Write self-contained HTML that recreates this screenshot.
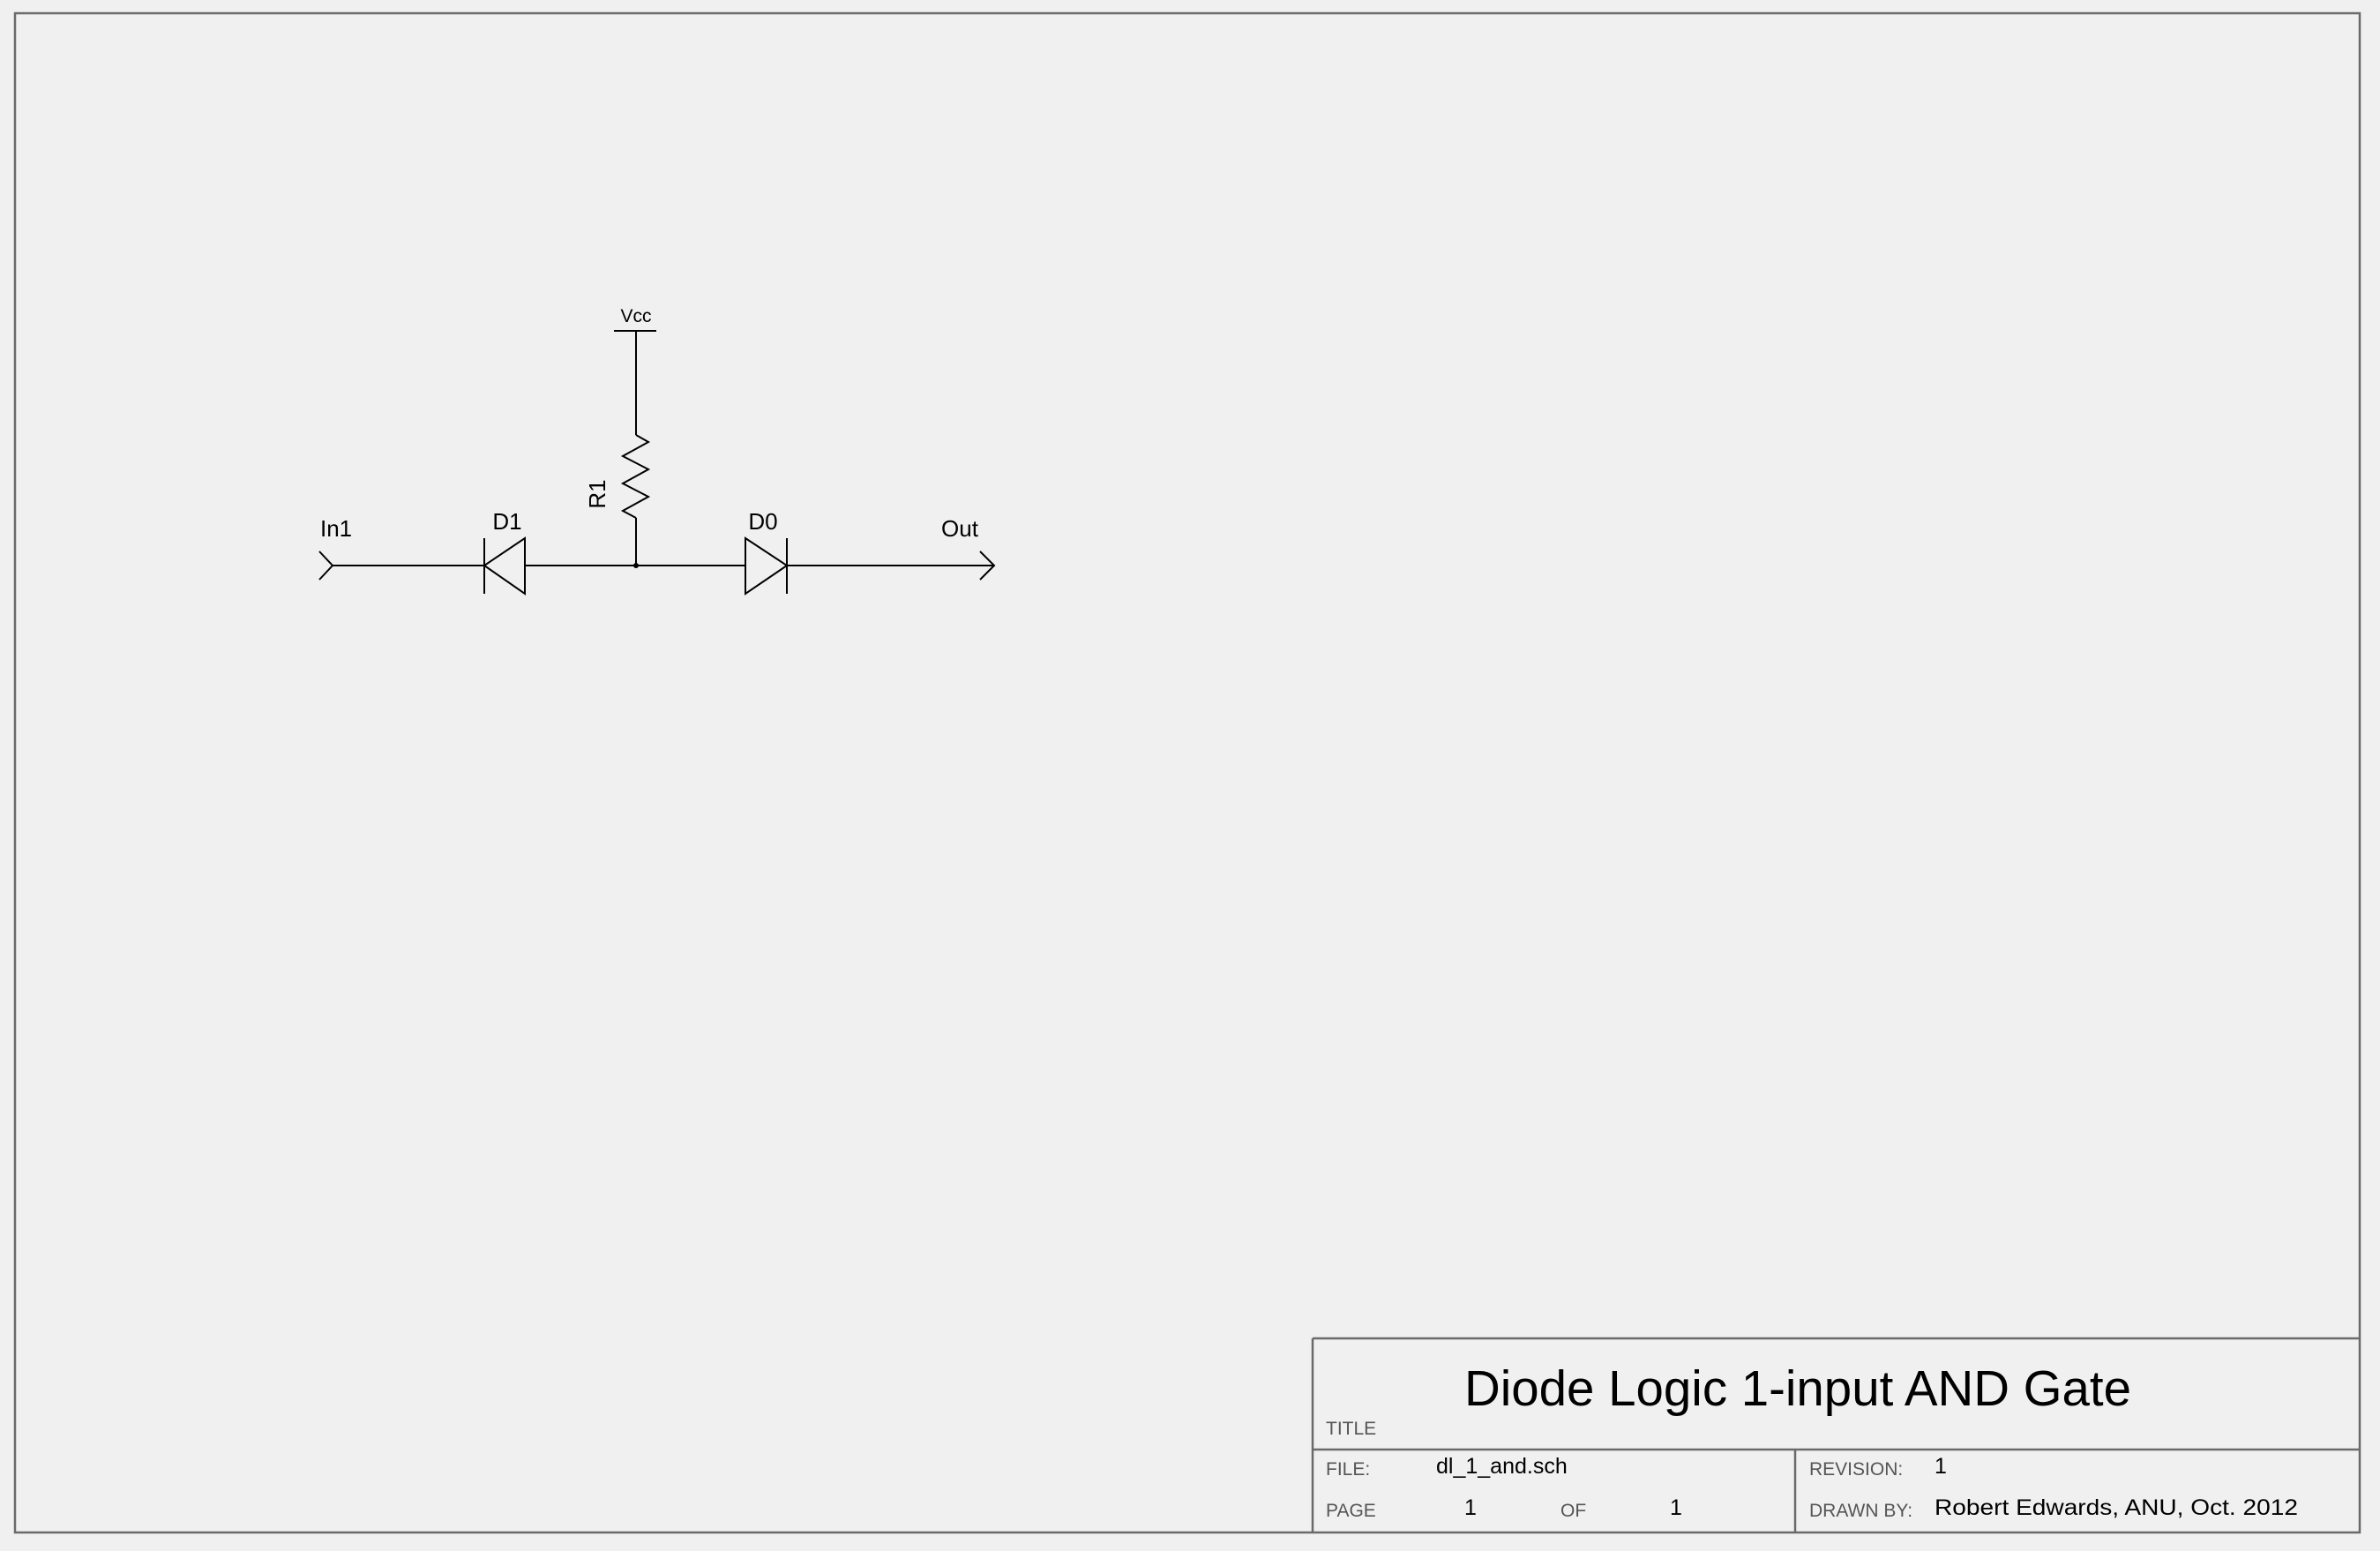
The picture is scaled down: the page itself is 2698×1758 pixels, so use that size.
<!DOCTYPE html>
<html><head><meta charset="utf-8"><style>
html,body{margin:0;padding:0;background:#f0f0f0;}
svg{display:block;}
text{font-family:"Liberation Sans",Arial,sans-serif;}
</style></head><body>
<svg width="2698" height="1758" viewBox="0 0 2698 1758">
<rect x="0" y="0" width="2698" height="1758" fill="#f0f0f0"/>
<rect x="17" y="15" width="2658" height="1722" fill="none" stroke="#6a6a6a" stroke-width="2.5"/>
<g stroke="#6a6a6a" stroke-width="2.5" fill="none">
<line x1="1488" y1="1517" x2="2675" y2="1517"/>
<line x1="1488" y1="1517" x2="1488" y2="1737"/>
<line x1="1488" y1="1643" x2="2675" y2="1643"/>
<line x1="2035" y1="1643" x2="2035" y2="1737"/>
</g>
<text x="1660" y="1593" font-size="57" textLength="756" lengthAdjust="spacingAndGlyphs" fill="#000">Diode Logic 1-input AND Gate</text>
<g fill="#555" font-size="21">
<text x="1503" y="1626">TITLE</text>
<text x="1503" y="1672">FILE:</text>
<text x="1503" y="1719">PAGE</text>
<text x="1769" y="1719">OF</text>
<text x="2051" y="1672">REVISION:</text>
<text x="2051" y="1719">DRAWN BY:</text>
</g>
<g fill="#000" font-size="25">
<text x="1628" y="1670">dl_1_and.sch</text>
<text x="1660" y="1717">1</text>
<text x="1893" y="1717">1</text>
<text x="2193" y="1670">1</text>
<text x="2193" y="1717" textLength="412" lengthAdjust="spacingAndGlyphs">Robert Edwards, ANU, Oct. 2012</text>
</g>
<g stroke="#000" stroke-width="2" fill="none">
<polyline points="362,625 377,641 362,657"/>
<line x1="377" y1="641" x2="549" y2="641"/>
<g>
<line x1="549" y1="610" x2="549" y2="673"/>
<polygon points="549,641 595,610 595,673"/>
</g>
<line x1="595" y1="641" x2="845" y2="641"/>
<g>
<polygon points="845,610 845,673 892,641"/>
<line x1="892" y1="610" x2="892" y2="673"/>
</g>
<line x1="892" y1="641" x2="1127" y2="641"/>
<polyline points="1111,625 1127,641 1111,657"/>
<line x1="721" y1="375" x2="721" y2="493"/>
<line x1="696" y1="375" x2="744" y2="375"/>
<polyline points="721,493 735,501 706,517 735,532 706,548 735,563 706,579 721,587"/>
<line x1="721" y1="587" x2="721" y2="641"/>
</g>
<circle cx="721" cy="641" r="3" fill="#000"/>
<g fill="#000">
<text x="721" y="365" font-size="21" text-anchor="middle">Vcc</text>
<text x="363" y="608" font-size="26">In1</text>
<text x="575" y="600" font-size="26" text-anchor="middle">D1</text>
<text x="865" y="600" font-size="26" text-anchor="middle">D0</text>
<text x="1088" y="608" font-size="26" text-anchor="middle">Out</text>
<text x="0" y="0" font-size="26" text-anchor="middle" transform="translate(686,560) rotate(-90)">R1</text>
</g>
</svg>
</body></html>
